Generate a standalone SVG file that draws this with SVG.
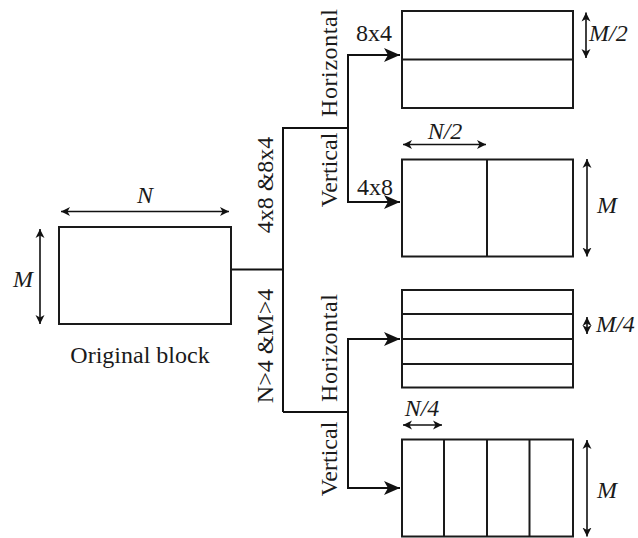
<svg xmlns="http://www.w3.org/2000/svg" width="638" height="538" viewBox="0 0 638 538" font-family="'Liberation Serif', 'Times New Roman', Times, serif">
<defs>
<marker id="flow" markerUnits="userSpaceOnUse" markerWidth="18" markerHeight="14" refX="16" refY="7" orient="auto">
<path d="M0,0 L16,7 L0,14 L4,7 Z" fill="#111"/>
</marker>
<marker id="dim" markerUnits="userSpaceOnUse" markerWidth="10" markerHeight="10" refX="9" refY="5" orient="auto-start-reverse">
<path d="M0,0.5 L9,5 L0,9.5 L2.5,5 Z" fill="#111"/>
</marker>
</defs>
<style>
.box{fill:#fff;stroke:#1a1a1a;stroke-width:2}
.div{stroke:#1a1a1a;stroke-width:2;fill:none}
.conn{stroke:#111;stroke-width:2;fill:none}
.dimline{stroke:#111;stroke-width:1.6;fill:none;marker-start:url(#dim);marker-end:url(#dim)}
.t{font-family:'Liberation Serif','Times New Roman',Times,serif;font-size:24px;fill:#1a1a1a}
.it{font-style:italic}
</style>
<rect width="638" height="538" fill="#fff"/>

<g id="connectors">
<polyline class="conn" points="231,269.5 283,269.5"/>
<polyline class="conn" points="283,412 283,128 348,128"/>
<polyline class="conn" points="348,128 348,55 400,55" marker-end="url(#flow)"/>
<polyline class="conn" points="348,128 348,202 400,202" marker-end="url(#flow)"/>
<polyline class="conn" points="283,412 348,412"/>
<polyline class="conn" points="348,412 348,339 400,339" marker-end="url(#flow)"/>
<polyline class="conn" points="348,412 348,488 400,488" marker-end="url(#flow)"/>
<text class="t" transform="translate(273,185) rotate(-90)" text-anchor="middle">4x8 &amp;8x4</text>
<text class="t" transform="translate(273,346) rotate(-90)" text-anchor="middle">N&gt;4 &amp;M&gt;4</text>
<text class="t" transform="translate(337,63) rotate(-90)" text-anchor="middle" textLength="108" lengthAdjust="spacing">Horizontal</text>
<text class="t" transform="translate(337,170) rotate(-90)" text-anchor="middle">Vertical</text>
<text class="t" transform="translate(337,348) rotate(-90)" text-anchor="middle" textLength="108" lengthAdjust="spacing">Horizontal</text>
<text class="t" transform="translate(337,459) rotate(-90)" text-anchor="middle">Vertical</text>
<text class="t" x="356" y="41">8x4</text>
<text class="t" x="357" y="195">4x8</text>
</g>

<g id="original">
<rect class="box" x="59" y="227" width="172" height="97"/>
<line class="dimline" x1="61" y1="211.5" x2="229" y2="211.5"/>
<line class="dimline" x1="40" y1="229" x2="40" y2="324"/>
<text class="t it" x="145" y="203" text-anchor="middle">N</text>
<text class="t it" x="23" y="287" text-anchor="middle">M</text>
<text class="t" x="140" y="363" text-anchor="middle">Original block</text>
</g>

<g id="horiz-binary">
<rect class="box" x="402" y="11" width="171" height="97"/>
<line class="div" x1="402" y1="59.5" x2="573" y2="59.5"/>
<line class="dimline" x1="586" y1="12.5" x2="586" y2="58"/>
<text class="t it" x="589" y="41">M/2</text>
</g>

<g id="vert-binary">
<rect class="box" x="402" y="159.5" width="171" height="97"/>
<line class="div" x1="487" y1="159.5" x2="487" y2="256.5"/>
<line class="dimline" x1="403" y1="144.5" x2="486" y2="144.5"/>
<text class="t it" x="445" y="139" text-anchor="middle">N/2</text>
<line class="dimline" x1="587" y1="159" x2="587" y2="256.5"/>
<text class="t it" x="597" y="213">M</text>
</g>

<g id="horiz-quad">
<rect class="box" x="402" y="290" width="171" height="97.5"/>
<line class="div" x1="402" y1="314" x2="573" y2="314"/>
<line class="div" x1="402" y1="339" x2="573" y2="339"/>
<line class="div" x1="402" y1="364" x2="573" y2="364"/>
<line class="dimline" x1="587" y1="317" x2="587" y2="334"/>
<text class="t it" x="596" y="332">M/4</text>
</g>

<g id="vert-quad">
<rect class="box" x="402" y="439.5" width="171" height="97"/>
<line class="div" x1="444" y1="439.5" x2="444" y2="536.5"/>
<line class="div" x1="487" y1="439.5" x2="487" y2="536.5"/>
<line class="div" x1="529.5" y1="439.5" x2="529.5" y2="536.5"/>
<line class="dimline" x1="403" y1="425" x2="442" y2="425"/>
<text class="t it" x="422" y="416" text-anchor="middle">N/4</text>
<line class="dimline" x1="587" y1="440" x2="587" y2="536.5"/>
<text class="t it" x="597" y="498">M</text>
</g>
</svg>
